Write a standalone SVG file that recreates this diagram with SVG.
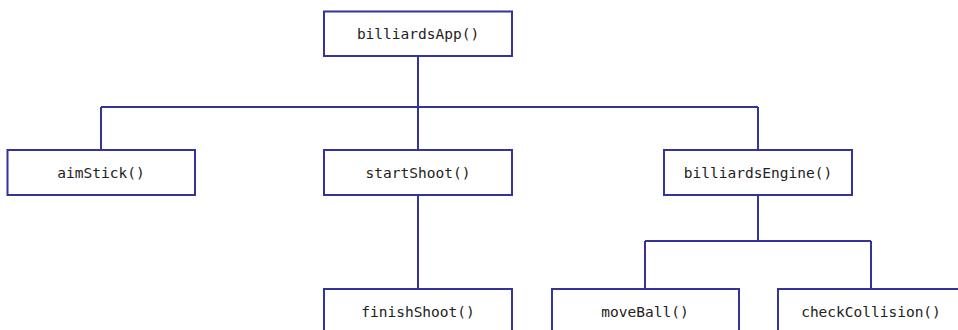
<svg xmlns="http://www.w3.org/2000/svg" width="958" height="330" viewBox="0 0 958 330">
  <style>
    .box { fill: #ffffff; stroke: #333399; stroke-width: 2; }
    .wire { fill: none; stroke: #333399; stroke-width: 2; }
    .lbl { font-family: "DejaVu Sans Mono", "Liberation Mono", monospace; font-size: 14.5px; fill: #222222; text-anchor: middle; }
  </style>
  <rect width="958" height="330" fill="#ffffff"/>

  <g id="connectors">
    <path class="wire" d="M418 56 V107 M101 107 H758 M101 107 V150 M418 107 V150 M758 107 V150"/>
    <path class="wire" d="M418 195 V289"/>
    <path class="wire" d="M758 195 V241 M645 241 H871 M645 241 V289 M871 241 V289"/>
  </g>

  <g id="billiardsApp">
    <rect class="box" x="324" y="11.5" width="188" height="44.5"/>
    <text class="lbl" x="418" y="39">billiardsApp()</text>
  </g>
  <g id="aimStick">
    <rect class="box" x="7.5" y="150" width="187.5" height="45"/>
    <text class="lbl" x="101" y="178">aimStick()</text>
  </g>
  <g id="startShoot">
    <rect class="box" x="324" y="150" width="188" height="45"/>
    <text class="lbl" x="418" y="178">startShoot()</text>
  </g>
  <g id="billiardsEngine">
    <rect class="box" x="664" y="150" width="188" height="45"/>
    <text class="lbl" x="758" y="178">billiardsEngine()</text>
  </g>
  <g id="finishShoot">
    <rect class="box" x="324" y="289" width="188" height="45"/>
    <text class="lbl" x="418" y="317">finishShoot()</text>
  </g>
  <g id="moveBall">
    <rect class="box" x="552" y="289" width="187" height="45"/>
    <text class="lbl" x="645" y="317">moveBall()</text>
  </g>
  <g id="checkCollision">
    <rect class="box" x="778" y="289" width="188" height="45"/>
    <text class="lbl" x="871" y="317">checkCollision()</text>
  </g>
</svg>
